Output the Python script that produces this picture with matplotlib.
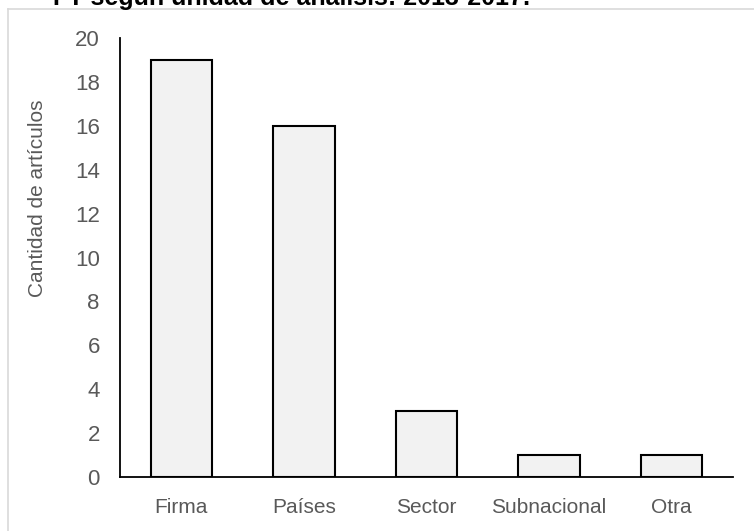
import matplotlib
matplotlib.use("Agg")
import matplotlib.pyplot as plt
from matplotlib.lines import Line2D

categories = ["Firma", "Países", "Sector", "Subnacional", "Otra"]
counts = [19, 16, 3, 1, 1]
y_ticks = [0, 2, 4, 6, 8, 10, 12, 14, 16, 18, 20]
y_label = "Cantidad de artículos"
title_text = "FT según unidad de análisis: 2013-2017."

plt.rcParams["font.family"] = ["Liberation Sans", "DejaVu Sans"]

W, H = 754, 531
fig = plt.figure(figsize=(W / 100, H / 100), dpi=100)
fig.patch.set_facecolor("white")

# chart frame (top and left edges, continuing past the figure)
fx, fy = 8 / W, 1 - 9 / H
fig.add_artist(Line2D([fx, 1.01], [fy, fy], color="#d9d9d9", lw=1.2,
                      transform=fig.transFigure))
fig.add_artist(Line2D([fx, fx], [fy, -0.01], color="#d9d9d9", lw=1.2,
                      transform=fig.transFigure))

# heading, partly above the visible area
fig.text(530 / W, 1 - 5 / H, title_text, ha="right", va="baseline",
         fontsize=18, fontweight="bold", color="black")

left, right, top, bottom = 120, 733, 38, 477
ax = fig.add_axes([left / W, 1 - bottom / H, (right - left) / W, (bottom - top) / H])

x = range(len(categories))
ax.bar(x, counts, width=0.5, color="#f2f2f2", edgecolor="black", linewidth=1.5,
       zorder=2)

ax.set_xlim(-0.5, len(categories) - 0.5)
ax.set_ylim(0, 20)
ax.set_yticks(y_ticks)
ax.set_xticks(list(x))
ax.set_xticklabels(categories)

for s in ["top", "right"]:
    ax.spines[s].set_visible(False)
for s in ["left", "bottom"]:
    ax.spines[s].set_color("black")
    ax.spines[s].set_linewidth(1.3)

ax.tick_params(axis="both", length=0, labelcolor="#595959")
ax.tick_params(axis="y", labelsize=16, pad=14.5)
ax.tick_params(axis="x", labelsize=15, pad=15)

fig.text(38 / W, 1 - 198 / H, y_label, rotation=90, ha="center", va="center",
         fontsize=15, color="#595959")

fig.savefig("out.png", dpi=100)
